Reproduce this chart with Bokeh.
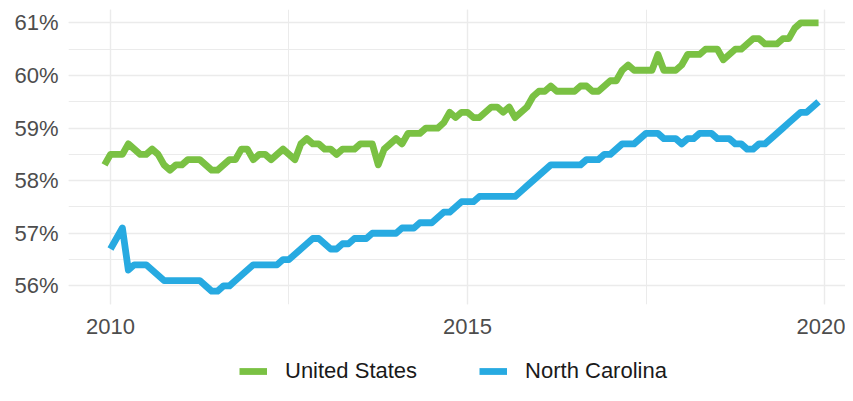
import numpy as np
import pandas as pd
from bokeh.plotting import figure
from bokeh.layouts import column
from bokeh.models import (Range1d, SingleIntervalTicker, PrintfTickFormatter,
                          Legend, LegendItem, ColumnDataSource)
from bokeh.embed import file_html
from bokeh.resources import INLINE

# ---- data (monthly, Dec 2009 - Dec 2019), percent ----
start_period = "2009-12"
end_period = "2019-12"

us_rate = [58.3, 58.5, 58.5, 58.5, 58.7, 58.6, 58.5, 58.5, 58.6, 58.5,
           58.3, 58.2, 58.3, 58.3, 58.4, 58.4, 58.4, 58.3, 58.2, 58.2,
           58.3, 58.4, 58.4, 58.6, 58.6, 58.4, 58.5, 58.5, 58.4, 58.5,
           58.6, 58.5, 58.4, 58.7, 58.8, 58.7, 58.7, 58.6, 58.6, 58.5,
           58.6, 58.6, 58.6, 58.7, 58.7, 58.7, 58.3, 58.6, 58.7, 58.8,
           58.7, 58.9, 58.9, 58.9, 59.0, 59.0, 59.0, 59.1, 59.3, 59.2,
           59.3, 59.3, 59.2, 59.2, 59.3, 59.4, 59.4, 59.3, 59.4, 59.2,
           59.3, 59.4, 59.6, 59.7, 59.7, 59.8, 59.7, 59.7, 59.7, 59.7,
           59.8, 59.8, 59.7, 59.7, 59.8, 59.9, 59.9, 60.1, 60.2, 60.1,
           60.1, 60.1, 60.1, 60.4, 60.1, 60.1, 60.1, 60.2, 60.4, 60.4,
           60.4, 60.5, 60.5, 60.5, 60.3, 60.4, 60.5, 60.5, 60.6, 60.7,
           60.7, 60.6, 60.6, 60.6, 60.7, 60.7, 60.9, 61.0, 61.0, 61.0,
           61.0]

nc_rate = [None, 56.7, 56.9, 57.1, 56.3, 56.4, 56.4, 56.4, 56.3, 56.2,
           56.1, 56.1, 56.1, 56.1, 56.1, 56.1, 56.1, 56.0, 55.9, 55.9,
           56.0, 56.0, 56.1, 56.2, 56.3, 56.4, 56.4, 56.4, 56.4, 56.4,
           56.5, 56.5, 56.6, 56.7, 56.8, 56.9, 56.9, 56.8, 56.7, 56.7,
           56.8, 56.8, 56.9, 56.9, 56.9, 57.0, 57.0, 57.0, 57.0, 57.0,
           57.1, 57.1, 57.1, 57.2, 57.2, 57.2, 57.3, 57.4, 57.4, 57.5,
           57.6, 57.6, 57.6, 57.7, 57.7, 57.7, 57.7, 57.7, 57.7, 57.7,
           57.8, 57.9, 58.0, 58.1, 58.2, 58.3, 58.3, 58.3, 58.3, 58.3,
           58.3, 58.4, 58.4, 58.4, 58.5, 58.5, 58.6, 58.7, 58.7, 58.7,
           58.8, 58.9, 58.9, 58.9, 58.8, 58.8, 58.8, 58.7, 58.8, 58.8,
           58.9, 58.9, 58.9, 58.8, 58.8, 58.8, 58.7, 58.7, 58.6, 58.6,
           58.7, 58.7, 58.8, 58.9, 59.0, 59.1, 59.2, 59.3, 59.3, 59.4,
           59.5]

series_names = ["United States", "North Carolina"]
series_colors = ["#7AC143", "#27AAE1"]

# ---- build ----
periods = pd.period_range(start_period, end_period, freq="M")
xdec = periods.year + (periods.month - 1) / 12.0

src = ColumnDataSource(dict(
    x=np.asarray(xdec, dtype=float),
    us=np.array(us_rate, dtype=float),
    nc=np.array([np.nan if v is None else v for v in nc_rate], dtype=float),
))

LW = 6.8
p = figure(width=845, height=346, output_backend="svg", toolbar_location=None,
           x_range=Range1d(2009.412, 2020.294), y_range=Range1d(55.645, 61.255),
           min_border_left=68, min_border_right=0, min_border_top=9,
           min_border_bottom=42)
p.outline_line_color = None
p.background_fill_color = "white"
p.border_fill_color = "white"

p.line("x", "us", source=src, line_color=series_colors[0], line_width=LW,
       line_join="round", line_cap="butt")
p.line("x", "nc", source=src, line_color=series_colors[1], line_width=LW,
       line_join="round", line_cap="butt")

p.xaxis.ticker = SingleIntervalTicker(interval=5, num_minor_ticks=2)
p.yaxis.ticker = SingleIntervalTicker(interval=1, num_minor_ticks=2)
p.yaxis.formatter = PrintfTickFormatter(format="%d%%")

for ax in (p.xaxis[0], p.yaxis[0]):
    ax.axis_line_color = None
    ax.major_tick_line_color = None
    ax.minor_tick_line_color = None
    ax.major_tick_out = 0
    ax.major_tick_in = 0
    ax.minor_tick_out = 0
    ax.major_label_text_font = "Liberation Sans"
    ax.major_label_text_font_size = "22px"
    ax.major_label_text_color = "#4D4D4D"
p.xaxis.major_label_standoff = 14
p.yaxis.major_label_standoff = 10

for g in (p.xgrid[0], p.ygrid[0]):
    g.grid_line_color = "#EBEBEB"
    g.grid_line_width = 1.4
    g.minor_grid_line_color = "#EBEBEB"
    g.minor_grid_line_width = 1.0

# ---- legend strip below the chart ----
lg = figure(width=845, height=39, output_backend="svg", toolbar_location=None,
            x_axis_type=None, y_axis_type=None,
            x_range=Range1d(0, 1), y_range=Range1d(0, 1),
            min_border_left=0, min_border_right=0, min_border_top=0,
            min_border_bottom=0)
lg.outline_line_color = None
lg.xgrid.visible = False
lg.ygrid.visible = False
# single off-range point: draws nothing, only provides the legend key style
key_us = lg.line(x=[0, 1], y=[-5, -5], line_color=series_colors[0], line_width=LW)
key_nc = lg.line(x=[0, 1], y=[-5, -5], line_color=series_colors[1], line_width=LW)

legend = Legend(items=[LegendItem(label=series_names[0], renderers=[key_us]),
                       LegendItem(label=series_names[1], renderers=[key_nc])],
                orientation="horizontal", location=(171, 1),
                glyph_width=28, glyph_height=24, label_standoff=18, spacing=62,
                padding=0, margin=0, border_line_color=None,
                background_fill_alpha=0,
                label_text_font="Liberation Sans", label_text_font_size="22px",
                label_text_color="#1a1a1a")
lg.add_layout(legend, "center")

layout = column(p, lg, spacing=0)
open("out.html", "w").write(file_html(layout, INLINE))
